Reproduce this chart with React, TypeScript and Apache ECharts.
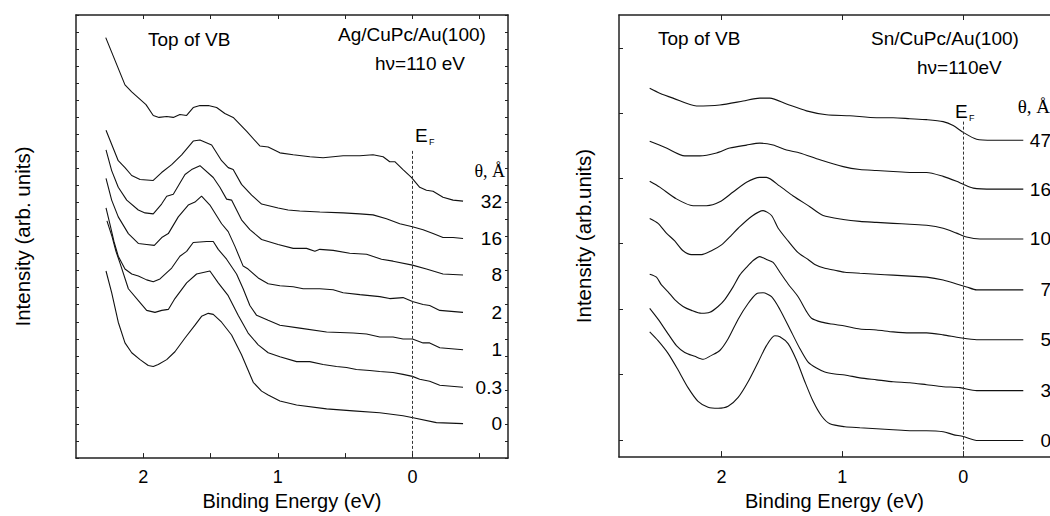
import React, { useEffect, useRef } from "react";
import * as echarts from "echarts";

// ---------- Ag/CuPc/Au(100) panel: [binding energy (eV), intensity (arb.)] ----------
const ag32 = [[2.279,427],[2.136,379],[2.086,372],[1.980,359],[1.926,348],[1.883,346],[1.826,347],[1.777,346],[1.728,349],[1.678,348],[1.629,356],[1.579,358],[1.517,358],[1.455,356],[1.394,350],[1.332,346],[1.233,332],[1.134,317],[1.072,316],[0.985,310],[0.886,308],[0.762,306],[0.664,305],[0.515,307],[0.391,307],[0.293,308],[0.218,306],[0.169,301],[0.131,301],[0.070,293],[0.008,285],[-0.054,275],[-0.104,272],[-0.153,271],[-0.227,265],[-0.302,262],[-0.376,261]];
const ag16 = [[2.277,333],[2.186,302],[2.136,295],[2.086,287],[2.024,283],[1.926,282],[1.864,290],[1.789,298],[1.715,308],[1.629,322],[1.579,323],[1.492,318],[1.418,302],[1.369,295],[1.332,293],[1.270,278],[1.195,267],[1.121,258],[0.998,254],[0.924,252],[0.837,251],[0.688,250],[0.515,249],[0.391,248],[0.293,247],[0.193,243],[0.094,238],[0.000,235],[-0.079,232],[-0.153,228],[-0.227,224],[-0.302,224],[-0.376,223]];
const ag8 = [[2.277,313],[2.235,292],[2.186,275],[2.123,262],[2.037,252],[1.987,249],[1.926,248],[1.864,258],[1.826,266],[1.777,268],[1.690,288],[1.641,293],[1.579,297],[1.480,285],[1.431,275],[1.381,263],[1.344,262],[1.270,242],[1.208,232],[1.121,222],[0.998,217],[0.886,213],[0.787,213],[0.725,210],[0.688,212],[0.589,211],[0.466,208],[0.341,207],[0.230,202],[0.144,200],[0.000,196],[-0.104,192],[-0.227,187],[-0.376,186]];
const ag2 = [[2.277,284],[2.235,262],[2.186,245],[2.111,228],[2.037,218],[1.975,217],[1.918,216],[1.863,224],[1.814,228],[1.740,245],[1.666,257],[1.616,260],[1.567,266],[1.505,257],[1.418,238],[1.369,230],[1.319,215],[1.258,195],[1.221,192],[1.146,183],[1.072,177],[0.985,175],[0.886,174],[0.812,172],[0.688,172],[0.589,171],[0.515,168],[0.391,166],[0.243,164],[0.169,162],[0.070,163],[0.000,159],[-0.079,156],[-0.128,155],[-0.203,150],[-0.376,148]];
const ag1 = [[2.277,254],[2.247,237],[2.218,220],[2.186,205],[2.136,192],[2.086,187],[2.037,185],[1.975,181],[1.926,179],[1.876,182],[1.789,193],[1.728,205],[1.678,210],[1.629,219],[1.529,220],[1.480,220],[1.443,212],[1.381,202],[1.307,187],[1.258,172],[1.208,155],[1.158,145],[1.072,140],[0.985,135],[0.837,132],[0.638,128],[0.441,127],[0.341,126],[0.243,123],[0.144,123],[0.070,121],[0.000,121],[-0.079,117],[-0.128,117],[-0.203,112],[-0.376,110]];
const ag03 = [[2.270,241],[2.232,225],[2.203,210],[2.173,198],[2.111,172],[2.024,158],[1.975,150],[1.913,148],[1.863,150],[1.814,151],[1.765,162],[1.678,178],[1.604,187],[1.505,190],[1.443,178],[1.369,165],[1.295,145],[1.221,127],[1.146,115],[1.072,107],[0.985,103],[0.861,98],[0.763,98],[0.664,95],[0.564,93],[0.490,92],[0.416,90],[0.317,89],[0.243,88],[0.144,87],[0.070,85],[0.000,83],[-0.054,80],[-0.128,78],[-0.203,74],[-0.376,72]];
const ag0 = [[2.277,190],[2.235,168],[2.186,138],[2.136,117],[2.086,107],[2.024,100],[1.963,94],[1.926,93],[1.889,95],[1.826,100],[1.765,108],[1.690,122],[1.616,135],[1.567,144],[1.517,147],[1.480,146],[1.418,138],[1.344,125],[1.270,105],[1.183,77],[1.121,68],[1.072,64],[0.985,58],[0.861,54],[0.638,50],[0.441,48],[0.243,46],[0.070,43],[-0.005,41],[-0.178,36],[-0.376,35]];
const agCurves = [ag32, ag16, ag8, ag2, ag1, ag03, ag0];
const agThickness = ["32", "16", "8", "2", "1", "0.3", "0"];

// ---------- Sn/CuPc/Au(100) panel ----------
const sn47 = [[2.594,377],[2.511,372],[2.401,367],[2.207,359],[2.014,360],[1.821,364],[1.683,367],[1.600,367],[1.462,361],[1.297,354],[1.131,350],[0.938,349],[0.717,347],[0.580,347],[0.441,346],[0.303,345],[0.166,343],[0.083,339],[0.000,332],[-0.111,325],[-0.248,324],[-0.497,324]];
const sn16 = [[2.594,323],[2.456,316],[2.304,308],[2.180,308],[2.041,311],[1.931,316],[1.793,319],[1.683,321],[1.573,319],[1.462,314],[1.352,311],[1.186,304],[0.993,297],[0.855,294],[0.717,293],[0.580,292],[0.441,291],[0.303,291],[0.166,287],[0.055,282],[0.000,279],[-0.083,275],[-0.248,274],[-0.497,274]];
const sn10 = [[2.594,282],[2.511,276],[2.373,264],[2.235,257],[2.124,257],[2.014,261],[1.904,271],[1.793,281],[1.683,286],[1.628,286],[1.517,277],[1.407,267],[1.269,256],[1.159,247],[0.993,243],[0.855,241],[0.717,240],[0.580,239],[0.441,238],[0.303,237],[0.166,234],[0.055,229],[-0.028,225],[-0.138,223],[-0.497,223]];
const sn7 = [[2.594,244],[2.525,239],[2.456,229],[2.387,221],[2.318,211],[2.248,207],[2.166,207],[2.083,211],[2.000,217],[1.917,227],[1.862,234],[1.752,246],[1.656,252],[1.586,247],[1.531,234],[1.449,221],[1.366,209],[1.283,202],[1.228,197],[1.145,193],[1.062,191],[0.979,189],[0.855,188],[0.717,187],[0.580,186],[0.441,185],[0.303,184],[0.166,181],[0.055,177],[-0.028,174],[-0.111,171],[-0.248,171],[-0.497,171]];
const sn5 = [[2.594,187],[2.538,184],[2.497,176],[2.442,169],[2.387,161],[2.318,154],[2.248,150],[2.166,147],[2.097,148],[2.028,154],[1.973,161],[1.904,174],[1.849,186],[1.793,194],[1.738,201],[1.683,205],[1.628,202],[1.573,199],[1.517,189],[1.449,177],[1.366,164],[1.297,149],[1.255,142],[1.172,138],[1.089,136],[0.979,134],[0.855,131],[0.717,130],[0.580,128],[0.441,127],[0.303,127],[0.166,125],[0.027,122],[-0.111,120],[-0.248,120],[-0.497,120]];
const sn3 = [[2.594,152],[2.525,141],[2.442,126],[2.373,114],[2.304,107],[2.221,103],[2.152,100],[2.083,104],[2.014,109],[1.945,121],[1.862,141],[1.780,157],[1.710,167],[1.656,168],[1.586,164],[1.517,151],[1.434,131],[1.352,111],[1.283,97],[1.214,91],[1.145,87],[1.062,85],[0.979,84],[0.855,81],[0.717,79],[0.580,77],[0.441,76],[0.303,74],[0.166,72],[0.027,71],[-0.111,68],[-0.248,68],[-0.497,68]];
const sn0 = [[2.594,128],[2.525,119],[2.442,106],[2.359,89],[2.277,71],[2.194,57],[2.111,51],[2.028,50],[1.945,52],[1.862,61],[1.780,77],[1.697,97],[1.628,114],[1.559,124],[1.517,123],[1.449,116],[1.379,99],[1.310,77],[1.242,57],[1.172,42],[1.103,34],[0.979,31],[0.855,30],[0.717,29],[0.580,28],[0.441,27],[0.303,27],[0.166,26],[0.083,23],[0.000,21],[-0.111,17],[-0.248,17],[-0.497,17]];
const snCurves = [sn47, sn16, sn10, sn7, sn5, sn3, sn0];
const snThickness = ["47", "16", "10", "7", "5", "3", "0"];

// axis ticks / labels
const agMajorTicks = [0, 1, 2];
const agAllTicks = [-0.5, 0, 0.5, 1, 1.5, 2];
const snTicks = [0, 1, 2];
const snYTicks = [17.3, 84.3, 151.3, 218.3, 284.9, 351.6, 418.3];
const agFermiTop = 312;
const snFermiTop = 343;

const SANS = '"Liberation Sans", Arial, Helvetica, sans-serif';
const SERIF = '"Liberation Serif", "Times New Roman", serif';
const INK = "#111111";
const FRAME = "#222222";

function App() {
  const ref = useRef<HTMLDivElement>(null);

  useEffect(() => {
    if (!ref.current) return;
    const chart = echarts.init(ref.current, null, { renderer: "svg" });

    const frameLine = { show: true, onZero: false, lineStyle: { color: FRAME, width: 1.5 } };
    const tickStyle = { lineStyle: { color: FRAME, width: 1 } };

    const xBase = (grid: number, min: number, max: number) => ({
      type: "value",
      gridIndex: grid,
      min,
      max,
      inverse: true,
      splitLine: { show: false },
      axisLine: frameLine,
    });

    const fermiMark = (top: number) => ({
      silent: true,
      symbol: ["none", "none"],
      label: { show: false },
      lineStyle: { type: [3, 2], color: "#333", width: 1 },
      data: [[{ coord: [0, top] }, { coord: [0, 0] }]],
    });

    const series: any[] = [];
    agCurves.forEach((d, i) => {
      series.push({
        type: "line",
        name: "Ag " + agThickness[i],
        xAxisIndex: 0,
        yAxisIndex: 0,
        data: d,
        showSymbol: false,
        symbol: "none",
        lineStyle: { color: INK, width: 1.1 },
        markLine: i === agCurves.length - 1 ? fermiMark(agFermiTop) : undefined,
      });
    });
    snCurves.forEach((d, i) => {
      series.push({
        type: "line",
        name: "Sn " + snThickness[i],
        xAxisIndex: 2,
        yAxisIndex: 2,
        data: d,
        showSymbol: false,
        symbol: "none",
        smooth: 0.25,
        lineStyle: { color: INK, width: 1.1 },
        markLine: i === snCurves.length - 1 ? fermiMark(snFermiTop) : undefined,
      });
    });

    chart.setOption({
      animation: false,
      backgroundColor: "#ffffff",
      grid: [
        { left: 76, top: 15, width: 432, height: 450 },
        { left: 619, top: 15, width: 431, height: 452 },
      ],
      xAxis: [
        {
          ...xBase(0, -0.71, 2.5),
          position: "bottom",
          axisTick: { show: true, inside: true, length: 5, customValues: agAllTicks, ...tickStyle },
          axisLabel: { customValues: agMajorTicks, color: "#000", fontSize: 18, fontFamily: SANS, margin: 10 },
          name: "Binding Energy (eV)",
          nameLocation: "middle",
          nameGap: 32,
          nameTextStyle: { color: "#000", fontSize: 20, fontFamily: SANS },
        },
        {
          ...xBase(0, -0.71, 2.5),
          position: "top",
          axisTick: { show: true, inside: true, length: 4, customValues: agAllTicks, ...tickStyle },
          axisLabel: { show: false },
        },
        {
          ...xBase(1, -0.718, 2.848),
          position: "bottom",
          axisTick: { show: true, inside: true, length: 6, customValues: snTicks, ...tickStyle },
          axisLabel: { customValues: snTicks, color: "#000", fontSize: 18, fontFamily: SANS, margin: 11 },
          name: "Binding Energy (eV)",
          nameLocation: "middle",
          nameGap: 26,
          nameTextStyle: { color: "#000", fontSize: 20, fontFamily: SANS },
        },
        {
          ...xBase(1, -0.718, 2.848),
          position: "top",
          axisTick: { show: true, inside: true, length: 5, customValues: snTicks, ...tickStyle },
          axisLabel: { show: false },
        },
      ],
      yAxis: [
        {
          type: "value",
          gridIndex: 0,
          position: "left",
          min: 0,
          max: 450,
          interval: 450 / 26,
          splitLine: { show: false },
          axisLine: frameLine,
          axisTick: { show: true, inside: true, length: 3, ...tickStyle },
          axisLabel: { show: false },
          name: "Intensity (arb. units)",
          nameLocation: "middle",
          nameGap: 43,
          nameRotate: 90,
          nameTextStyle: { color: "#000", fontSize: 20.5, fontFamily: SANS },
        },
        {
          type: "value",
          gridIndex: 0,
          position: "right",
          min: 0,
          max: 450,
          interval: 450 / 26,
          splitLine: { show: false },
          axisLine: frameLine,
          axisTick: { show: true, inside: true, length: 3, ...tickStyle },
          axisLabel: { show: false },
        },
        {
          type: "value",
          gridIndex: 1,
          position: "left",
          min: 0,
          max: 452,
          splitLine: { show: false },
          axisLine: frameLine,
          axisTick: { show: true, inside: true, length: 4, customValues: snYTicks, ...tickStyle },
          axisLabel: { show: false },
          name: "Intensity (arb.units)",
          nameLocation: "middle",
          nameGap: 25,
          nameRotate: 90,
          nameTextStyle: { color: "#000", fontSize: 20.5, fontFamily: SANS },
        },
      ],
      series,
    });

    const txt = (text: string, x: number, y: number, size: number, family = SANS, align = "left") => ({
      type: "text",
      x,
      y,
      silent: true,
      style: { text, fill: "#000", fontSize: size, fontFamily: family, align, verticalAlign: "middle" },
    });

    const graphics: any[] = [
      // left panel annotations
      txt("Top of VB", 148, 39, 19),
      txt("Ag/CuPc/Au(100)", 338, 34, 19),
      txt("h\u03bd=110 eV", 375, 63, 19),
      txt("E", 415, 135, 19),
      txt("F", 429, 142, 9),
      txt("\u03b8, \u00c5", 505, 171, 18, SERIF, "right"),
      // right panel annotations
      txt("Top of VB", 658, 38, 19),
      txt("Sn/CuPc/Au(100)", 871, 38, 19),
      txt("h\u03bd=110eV", 917, 67, 19),
      txt("E", 955, 111, 19),
      txt("F", 969, 118, 9),
      txt("\u03b8, \u00c5", 1050, 106, 19, SERIF, "right"),
    ];

    agCurves.forEach((d, i) => {
      const last = d[d.length - 1];
      const p = chart.convertToPixel({ xAxisIndex: 0, yAxisIndex: 0 }, last) as number[];
      graphics.push(txt(agThickness[i], 502, p[1], 19, SANS, "right"));
    });
    snCurves.forEach((d, i) => {
      const last = d[d.length - 1];
      const p = chart.convertToPixel({ xAxisIndex: 2, yAxisIndex: 2 }, last) as number[];
      graphics.push(txt(snThickness[i], 1051, p[1], 19, SANS, "right"));
    });

    chart.setOption({ graphic: graphics });

    return () => chart.dispose();
  }, []);

  return (
    <div
      ref={ref}
      style={{ position: "absolute", left: 0, top: 0, width: 1050, height: 516, background: "#fff" }}
    />
  );
}

export default App;
